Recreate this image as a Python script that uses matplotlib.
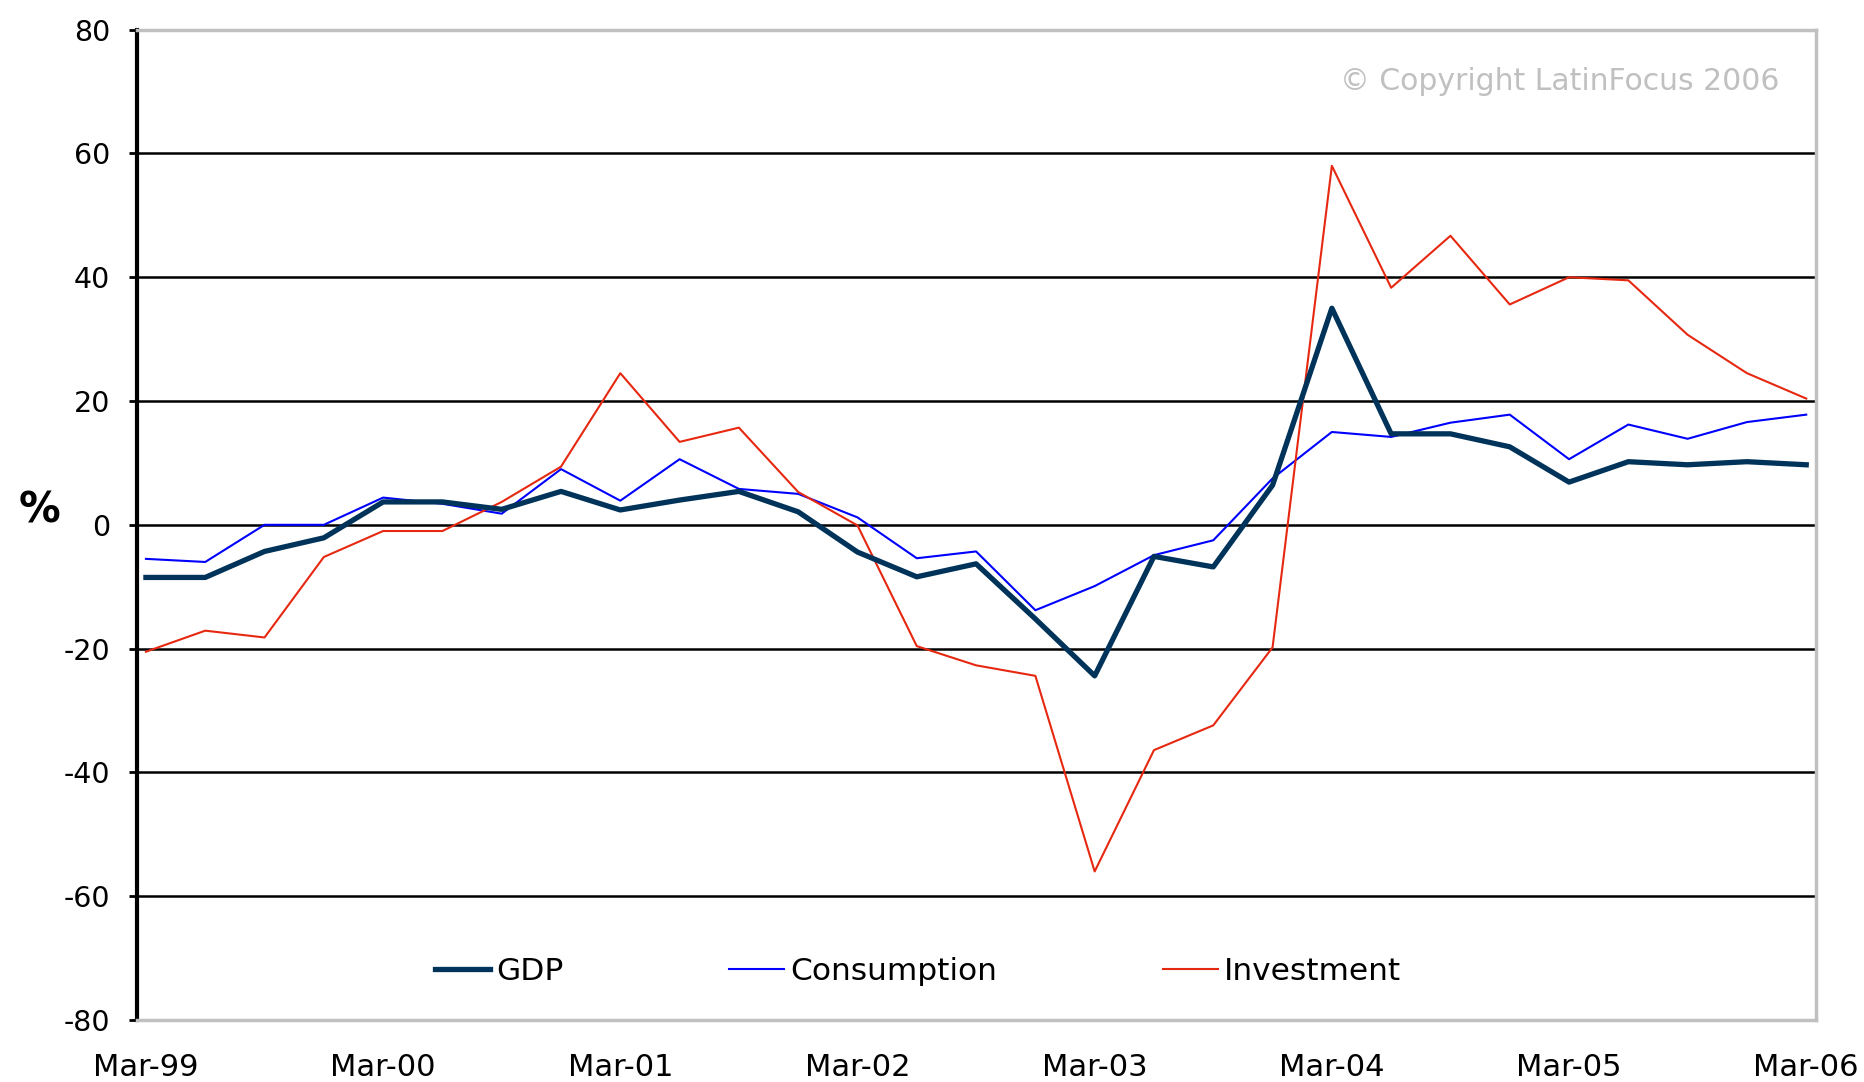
"""GDP, consumption and investment growth, Mar-99 to Mar-06 (quarterly, %)."""
import matplotlib
matplotlib.use("Agg")
import matplotlib.pyplot as plt
import numpy as np

quarters = [
    "Mar-99", "Jun-99", "Sep-99", "Dec-99",
    "Mar-00", "Jun-00", "Sep-00", "Dec-00",
    "Mar-01", "Jun-01", "Sep-01", "Dec-01",
    "Mar-02", "Jun-02", "Sep-02", "Dec-02",
    "Mar-03", "Jun-03", "Sep-03", "Dec-03",
    "Mar-04", "Jun-04", "Sep-04", "Dec-04",
    "Mar-05", "Jun-05", "Sep-05", "Dec-05",
    "Mar-06",
]

gdp = [-8.5, -8.5, -4.3, -2.1, 3.7, 3.7, 2.5, 5.4, 2.4, 4.0, 5.4, 2.1,
       -4.4, -8.4, -6.3, -15.2, -24.4, -5.1, -6.8, 6.4, 35.0, 14.7,
       14.7, 12.6, 6.9, 10.2, 9.7, 10.2, 9.7]
consumption = [-5.5, -6.0, 0.0, 0.0, 4.4, 3.4, 1.8, 9.0, 3.9, 10.6, 5.8, 5.0,
               1.2, -5.4, -4.3, -13.8, -9.9, -4.9, -2.5, 7.5, 15.0, 14.2,
               16.5, 17.8, 10.6, 16.2, 13.9, 16.6, 17.8]
investment = [-20.5, -17.1, -18.2, -5.2, -1.0, -1.0, 3.7, 9.4, 24.5, 13.4,
              15.7, 5.3, -0.1, -19.6, -22.7, -24.4, -56.0, -36.4, -32.4,
              -19.8, 58.0, 38.3, 46.7, 35.6, 40.0, 39.5, 30.7, 24.5, 20.4]

yticks = [80, 60, 40, 20, 0, -20, -40, -60, -80]


def main():
    x = np.arange(len(quarters))

    fig = plt.figure(figsize=(18.64, 10.82), dpi=100)
    ax = fig.add_axes([0.0733, 0.0573, 0.9007, 0.9153])

    for y in yticks[1:-1]:
        ax.axhline(y, color="black", lw=1.8, zorder=1)

    ax.plot(x, consumption, color="#0000ff", lw=1.5, label="Consumption", zorder=3)
    ax.plot(x, investment, color="#e62810", lw=1.5, label="Investment", zorder=3)
    ax.plot(x, gdp, color="#00335a", lw=3.8, label="GDP", zorder=4)

    ax.set_xlim(-0.157, 28.157)
    ax.set_ylim(-80, 80)
    ax.set_yticks(yticks)
    ax.set_yticklabels([str(v) for v in yticks], fontsize=20.5)
    ax.set_xticks(x[::4])
    ax.set_xticklabels(quarters[::4], fontsize=22)
    ax.tick_params(axis="x", length=0, pad=24)
    ax.tick_params(axis="y", length=6, width=2, pad=13, color="black")

    for side in ("top", "right", "bottom"):
        ax.spines[side].set_color("#c0c0c0")
        ax.spines[side].set_linewidth(2.5)
    ax.spines["left"].set_color("black")
    ax.spines["left"].set_linewidth(3)

    fig.text(0.021, 0.528, "%", fontsize=30, fontweight="bold",
             ha="center", va="center")
    ax.text(0.9786, 0.948, "\u00a9 Copyright LatinFocus 2006", transform=ax.transAxes,
            fontsize=21.5, color="#c0c0c0", ha="right", va="center")

    handles, labels = ax.get_legend_handles_labels()
    order = [2, 0, 1]
    ax.legend([handles[i] for i in order], [labels[i] for i in order],
              loc="center left", bbox_to_anchor=(0.178, 0.049), ncol=3,
              frameon=False, fontsize=22.5, handlelength=1.75, handletextpad=0.2,
              columnspacing=5.3, borderpad=0, borderaxespad=0)

    fig.savefig("out.png", dpi=100)


if __name__ == "__main__":
    main()
